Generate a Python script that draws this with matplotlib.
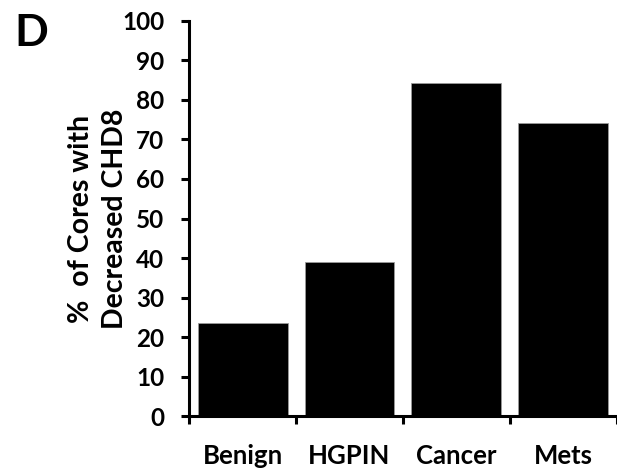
import matplotlib
matplotlib.use("Agg")
import matplotlib.pyplot as plt
import numpy as np

# data
categories = ["Benign", "HGPIN", "Cancer", "Mets"]
pct_decreased = [23.7, 39.0, 84.2, 74.2]
y_ticks = [0, 10, 20, 30, 40, 50, 60, 70, 80, 90, 100]

plt.rcParams['font.family'] = ['Lato', 'DejaVu Sans']
plt.rcParams['font.weight'] = 'bold'

fig = plt.figure(figsize=(6.17, 4.72), dpi=100)
ax = fig.add_axes([189.3 / 617, 1 - 416.3 / 472, (616.5 - 189.3) / 617, (416.3 - 20.7) / 472])

x = np.arange(len(categories))
ax.bar(x, pct_decreased, width=0.84, color='black', edgecolor='#9a9a9a', linewidth=0.6)

ax.set_xlim(-0.5, len(categories) - 0.5)
ax.set_ylim(0, 100)

# major ticks at category boundaries, labels at centres
ax.set_xticks(np.arange(-0.5, len(categories), 1.0))
ax.set_xticklabels([])
ax.set_xticks(x, minor=True)
ax.set_xticklabels(categories, minor=True, fontsize=18.5, fontweight='bold')
ax.tick_params(axis='x', which='minor', length=0, pad=20)
ax.tick_params(axis='x', which='major', direction='out', length=6, width=2.2)

ax.set_yticks(y_ticks)
ax.set_yticklabels([str(t) for t in y_ticks], fontsize=17.5, fontweight='bold')
ax.tick_params(axis='y', direction='out', length=6, width=2.2, pad=12)

for side in ['top', 'right']:
    ax.spines[side].set_visible(False)
for side in ['left', 'bottom']:
    ax.spines[side].set_linewidth(2.2)

fig.text(98 / 617, 1 - 218.5 / 472, "%  of Cores with\nDecreased CHD8",
         rotation=90, ha='center', va='center', multialignment='center',
         fontsize=20.5, fontweight='bold', linespacing=1.4)

fig.text(14 / 617, 1 - 33 / 472, "D", ha='left', va='center',
         fontsize=32, fontweight='bold')

fig.savefig("out.png", dpi=100)
